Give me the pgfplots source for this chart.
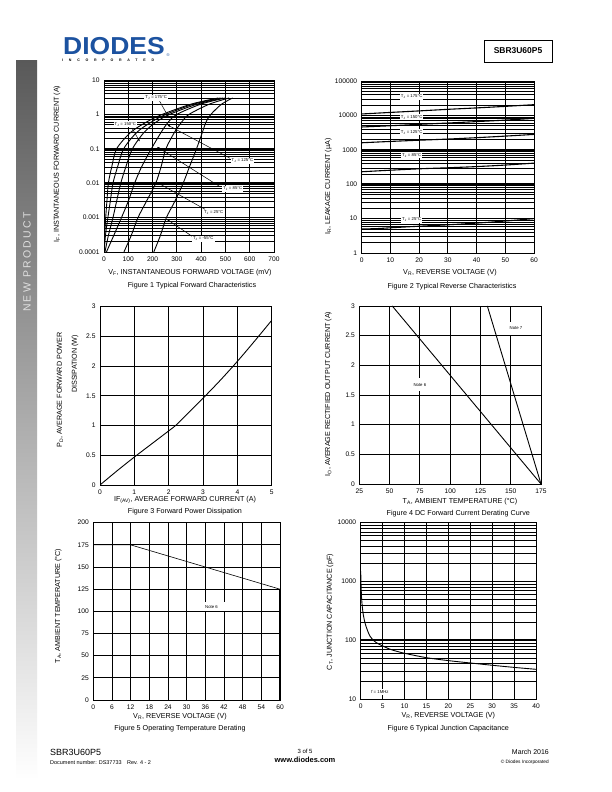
\documentclass[border=0pt]{standalone}
\usepackage{fontspec}
\setmainfont{Liberation Sans}
\usepackage{pgfplots}
\pgfplotsset{compat=1.18}
\usetikzlibrary{arrows.meta}
\definecolor{dblue}{RGB}{28,82,160}
\newcommand\tks{\fontsize{6.7}{7}\selectfont}
\newcommand\lbs{\fontsize{7.2}{8}\selectfont}
\newcommand\ann{\fontsize{4.3}{5}\selectfont}
\tikzset{
 crv/.style={black, line width=0.9pt, smooth},
 arr/.style={line width=0.5pt, -{Latex[length=3pt,width=2pt]}},
 lab/.style={fill=white, inner sep=1pt, font=\ann},
}
\pgfplotsset{
 myds/.style={scale only axis, anchor=north west, axis line style={line width=0.9pt},
   major tick length=0pt, minor tick length=0pt, grid=major,
   major grid style={black,line width=0.75pt}, minor grid style={black,line width=0.55pt},
   tick label style={font=\tks}, /pgf/number format/assume math mode=true,
   xticklabel style={yshift=-1pt}, yticklabel style={xshift=-1pt}},
 mylog/.style={yminorgrids=true,
   extra y tick style={grid=major, major grid style={black,line width=1.6pt}},
   extra y tick labels={,,,,,,}},
}
\begin{document}
\begin{tikzpicture}
\path[use as bounding box] (0,0) rectangle (612bp,792bp);
\fill[white] (0,0) rectangle (612bp,792bp);
% side bar
\shade[top color=black!65, bottom color=white] (16bp,12bp) rectangle (37bp,731bp);
\node[rotate=90, text=white!88!black, font=\fontsize{10.5}{11}\selectfont\addfontfeature{LetterSpace=22}] at (27bp,530bp) {NEW PRODUCT};
% header
\node[anchor=base west, text=dblue, font=\fontsize{24.6}{25}\bfseries\selectfont, xscale=1.08, inner sep=0pt] at (63bp,737.7bp) {DIODES};
\node[text=dblue, font=\fontsize{4}{4}\selectfont, inner sep=0pt] at (168bp,737bp) {®};
\node[anchor=west, font=\fontsize{3.6}{4}\bfseries\selectfont\addfontfeature{LetterSpace=160}, inner sep=0pt] at (62bp,732bp) {INCORPORATED};
\draw[line width=0.9pt] (484bp,730bp) rectangle (552bp,752bp);
\node[font=\fontsize{8.5}{9}\bfseries\selectfont] at (518bp,741bp) {SBR3U60P5};
% footer
\node[anchor=west, font=\fontsize{9}{10}\selectfont, inner sep=0pt] at (50bp,40bp) {SBR3U60P5};
\node[anchor=west, font=\fontsize{5.5}{6}\selectfont, inner sep=0pt] at (50bp,29bp) {Document number: DS37733\quad Rev. 4 - 2};
\node[font=\fontsize{6}{7}\selectfont] at (305bp,41bp) {3 of 5};
\node[font=\fontsize{7.5}{8}\bfseries\selectfont] at (305bp,32bp) {www.diodes.com};
\node[anchor=east, font=\fontsize{7}{8}\selectfont, inner sep=0pt] at (549bp,40bp) {March 2016};
\node[anchor=east, font=\fontsize{4.8}{5}\selectfont, inner sep=0pt] at (549bp,30bp) {© Diodes Incorporated};

% ---------- Figure 1 ----------
\begin{axis}[myds, ymode=log, mylog, at={(104bp,712bp)}, width=170bp, height=172bp,
  xmin=0, xmax=700, ymin=1e-4, ymax=10, xtick={0,100,...,700},
  ytick={1e-4,1e-3,1e-2,1e-1,1,10}, yticklabels={0.0001,0.001,0.01,0.1,1,10},
  extra y ticks={1e-3,1e-2,1e-1,1}]
\addplot[crv] coordinates {(0.5,1e-4)(3,3e-4)(7,1e-3)(12,3e-3)(18,1e-2)(32,3e-2)(52,0.1)(110,0.3)(175,0.6)(240,1)(360,2)(470,3)};
\addplot[crv] coordinates {(1,1e-4)(6,3e-4)(16,1e-3)(26,3e-3)(37,1e-2)(56,3e-2)(81,0.1)(135,0.3)(195,0.6)(255,1)(370,2)(480,3)};
\addplot[crv] coordinates {(4,1e-4)(18,3e-4)(37,1e-3)(52,3e-3)(69,1e-2)(90,3e-2)(117,0.1)(165,0.3)(215,0.6)(270,1)(385,2)(490,3)};
\addplot[crv] coordinates {(10,1e-4)(40,3e-4)(72,1e-3)(100,3e-3)(126,1e-2)(155,3e-2)(195,0.1)(235,0.3)(265,0.6)(300,1)(400,2)(500,3)};
\addplot[crv] coordinates {(82,1e-4)(112,3e-4)(140,1e-3)(175,3e-3)(213,1e-2)(235,3e-2)(255,0.1)(290,0.3)(320,0.6)(350,1)(435,2)(515,3)};
\addplot[crv] coordinates {(205,1e-4)(232,3e-4)(257,1e-3)(292,3e-3)(326,1e-2)(352,3e-2)(381,0.1)(405,0.3)(420,0.6)(440,1)(485,2)(530,3)};
\draw[arr] (228,2.5) -- (265,0.85);
\draw[arr] (115,0.40) -- (148,0.16);
\draw[arr] (519,0.053) -- (260,0.5);
\draw[arr] (478,0.0079) -- (217,0.115);
\draw[arr] (416,0.00174) -- (217,0.0107);
\draw[arr] (365,0.000279) -- (258,0.0009);
\node[lab] at (215,3.0) {T\textsubscript{J} = 175°C};
\node[lab] at (88,0.52) {T\textsubscript{J} = 150°C};
\node[lab] at (570,0.045) {T\textsubscript{J} = 125°C};
\node[lab] at (530,0.0069) {T\textsubscript{J} = 85°C};
\node[lab] at (452,0.0014) {T\textsubscript{J} = 25°C};
\node[lab] at (409,0.00024) {T\textsubscript{J} = -55°C};
\end{axis}
\node[rotate=90, font=\lbs] at (57bp,628bp) {I\textsubscript{F}, INSTANTANEOUS FORWARD CURRENT (A)};
\node[font=\lbs] at (190bp,519bp) {V\textsubscript{F}, INSTANTANEOUS FORWARD VOLTAGE (mV)};
\node[font=\lbs] at (192bp,506.5bp) {Figure 1 Typical Forward Characteristics};

% ---------- Figure 2 ----------
\begin{axis}[myds, ymode=log, mylog, at={(361.7bp,711bp)}, width=172.3bp, height=172bp,
  xmin=0, xmax=60, ymin=1, ymax=100000, xtick={0,10,...,60},
  ytick={1,10,100,1000,10000,100000}, yticklabels={1,10,100,1000,10000,100000},
  extra y ticks={10,100,1000,10000}]
\addplot[crv, line width=1.1pt] coordinates {(0,11000)(10,12200)(20,13500)(30,15000)(40,16500)(50,18300)(60,20500)};
\addplot[crv, line width=1.1pt] coordinates {(0,4600)(10,5000)(20,5500)(30,6000)(40,6600)(50,7300)(60,8200)};
\addplot[crv, line width=1.1pt] coordinates {(0,1600)(10,1750)(20,1900)(30,2050)(40,2250)(50,2500)(60,2800)};
\addplot[crv, line width=1.1pt] coordinates {(0,230)(10,255)(20,280)(30,300)(40,325)(50,360)(60,410)};
\addplot[crv, line width=1.1pt] coordinates {(0,5)(5,5.1)(10,5.4)(20,6)(30,6.6)(40,7.4)(50,8.5)(60,10)};
\node[lab] at (17.4,35000) {T\textsubscript{J} = 175°C};
\node[lab] at (17.4,8800) {T\textsubscript{J} = 150°C};
\node[lab] at (17.4,3230) {T\textsubscript{J} = 125°C};
\node[lab] at (17.4,700) {T\textsubscript{J} = 85°C};
\node[lab] at (17.4,9.1) {T\textsubscript{J} = 25°C};
\end{axis}
\node[rotate=90, font=\lbs] at (328.3bp,605.3bp) {I\textsubscript{R}, LEAKAGE CURRENT (µA)};
\node[font=\lbs] at (450bp,519.7bp) {V\textsubscript{R}, REVERSE VOLTAGE (V)};
\node[font=\lbs] at (452bp,505.3bp) {Figure 2 Typical Reverse Characteristics};

% ---------- Figure 3 ----------
\begin{axis}[myds, at={(100bp,485.3bp)}, width=171.7bp, height=178.3bp,
  xmin=0, xmax=5, ymin=0, ymax=3, xtick={0,...,5}, ytick={0,0.5,...,3},
  yticklabels={0,0.5,1,1.5,2,2.5,3}]
\addplot[crv] coordinates {(0,0)(0.5,0.24)(1,0.47)(1.5,0.69)(2,0.91)(2.2,1.0)(2.5,1.17)(3,1.46)(3.5,1.76)(4,2.08)(4.5,2.42)(5,2.77)};
\end{axis}
\node[rotate=90, font=\lbs] at (60bp,402bp) {P\textsubscript{D}, AVERAGE FORWARD POWER};
\node[rotate=90, font=\lbs] at (75bp,428bp) {DISSIPATION (W)};
\node[font=\lbs] at (185bp,292bp) {IF\textsubscript{(AV)}, AVERAGE FORWARD CURRENT (A)};
\node[font=\lbs] at (185bp,280.3bp) {Figure 3 Forward Power Dissipation};

% ---------- Figure 4 ----------
\begin{axis}[myds, at={(359.3bp,486bp)}, width=181.7bp, height=178bp,
  xmin=25, xmax=175, ymin=0, ymax=3, xtick={25,50,...,175}, ytick={0,0.5,...,3},
  yticklabels={0,0.5,1,1.5,2,2.5,3}]
\addplot[black, line width=0.9pt] coordinates {(52.2,3)(175,0)};
\addplot[black, line width=0.9pt] coordinates {(130.7,3)(175,0)};
\node[fill=white, font=\ann, inner xsep=2pt, inner ysep=5pt] at (75,1.67) {Note 6};
\node[fill=white, font=\ann, inner xsep=2pt, inner ysep=5pt] at (154.4,2.62) {Note 7};
\end{axis}
\node[rotate=90, font=\lbs] at (328.3bp,398bp) {I\textsubscript{O}, AVERAGE RECTIFIED OUTPUT CURRENT (A)};
\node[font=\lbs] at (460bp,290.3bp) {T\textsubscript{A}, AMBIENT TEMPERATURE (°C)};
\node[font=\lbs] at (458.3bp,278.7bp) {Figure 4 DC Forward Current Derating Curve};

% ---------- Figure 5 ----------
\begin{axis}[myds, at={(93.3bp,269.3bp)}, width=186.7bp, height=177.3bp,
  xmin=0, xmax=60, ymin=0, ymax=200, xtick={0,6,...,60}, ytick={0,25,...,200}]
\addplot[black, line width=0.6pt] coordinates {(0,175)(12,175)(60,125)};
\addplot[black, line width=1.2pt] coordinates {(60,125)(60,0)};
\node[fill=white, font=\ann, inner xsep=12pt, inner ysep=3pt] at (38,105) {Note 6};
\end{axis}
\node[rotate=90, font=\lbs] at (58.3bp,186bp) {T\textsubscript{A}, AMBIENT TEMPERATURE (°C)};
\node[font=\lbs] at (180bp,75.3bp) {V\textsubscript{R}, REVERSE VOLTAGE (V)};
\node[font=\lbs] at (180bp,63.7bp) {Figure 5 Operating Temperature Derating};

% ---------- Figure 6 ----------
\begin{axis}[myds, ymode=log, mylog, at={(360.7bp,269.3bp)}, width=175.3bp, height=176.3bp,
  xmin=0, xmax=40, ymin=10, ymax=10000, xtick={0,5,...,40},
  ytick={10,100,1000,10000}, yticklabels={10,100,1000,10000},
  extra y ticks={100,1000}]
\addplot[crv] coordinates {(0,1500)(0.1,800)(0.2,520)(0.35,380)(0.6,270)(1,195)(1.5,150)(2.1,118)(3,98)(4,87)(5,80)(7,69)(10,60)(15,50.5)(20,45)(25,41)(30,37.5)(35,34.5)(40,32)};
\node[fill=white, font=\ann, inner sep=1.5pt] at (4.4,13) {f = 1MHz};
\end{axis}
\node[rotate=90, font=\lbs] at (330bp,180bp) {C\textsubscript{T}, JUNCTION CAPACITANCE (pF)};
\node[font=\lbs] at (448.3bp,76bp) {V\textsubscript{R}, REVERSE VOLTAGE (V)};
\node[font=\lbs] at (448.3bp,63.7bp) {Figure 6 Typical Junction Capacitance};
\end{tikzpicture}
\end{document}
